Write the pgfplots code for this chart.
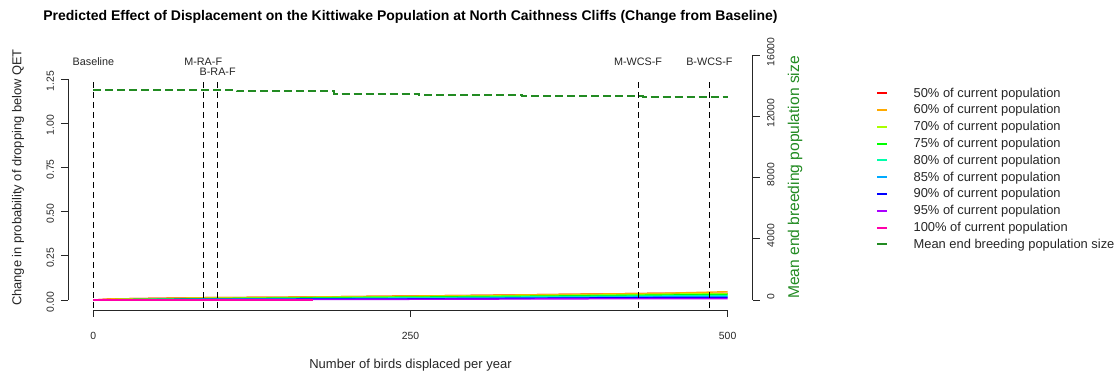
\documentclass[border=0pt]{standalone}
\usepackage{fontspec}
\setmainfont{Liberation Sans}
\usepackage{pgfplots}
\pgfplotsset{compat=1.18}

% R rainbow(9) palette
\definecolor{c50}{HTML}{FF0000}
\definecolor{c60}{HTML}{FFAA00}
\definecolor{c70}{HTML}{AAFF00}
\definecolor{c75}{HTML}{00FF00}
\definecolor{c80}{HTML}{00FFAA}
\definecolor{c85}{HTML}{00AAFF}
\definecolor{c90}{HTML}{0000FF}
\definecolor{c95}{HTML}{AA00FF}
\definecolor{c100}{HTML}{FF00AA}
\definecolor{popgreen}{HTML}{228B22}

\pgfplotsset{
  rbase/.style={
    scale only axis,
    width=342.5pt, height=132.5pt,
    at={(34pt,33pt)}, anchor=south west,
    xmin=-20, xmax=520,
    clip=false,
    axis line style={draw=none},
    tick align=outside,
    major tick length=3.5pt,
    tick style={black!85, line width=0.5pt},
    ticklabel style={font=\fontsize{5.2}{6}\selectfont, text=black!85},
    /pgf/number format/assume math mode=true,
  },
}

\begin{document}
\begin{tikzpicture}[x=1pt,y=1pt]
\path[use as bounding box] (0,0) rectangle (559.5,188);

\begin{axis}[
  rbase,
  ymin=-0.05656, ymax=1.4423,
  axis x line*=bottom, axis y line*=left,
  xtick={0,250,500},
  ytick={0,0.25,0.5,0.75,1,1.25},
  yticklabel style={rotate=90, anchor=south, xshift=-1pt,
    /pgf/number format/.cd, fixed, fixed zerofill, precision=2},
  xticklabel style={anchor=north, yshift=-4pt},
  xlabel={Number of birds displaced per year},
  xlabel style={at={(axis description cs:0.5,-0.2075)}, anchor=center,
    font=\fontsize{6.5}{7.5}\selectfont, text=black!85},
  ylabel={Change in probability of dropping below QET},
  ylabel style={at={(axis description cs:-0.073,0.5)}, anchor=center,
    font=\fontsize{6.45}{7.5}\selectfont, text=black!85},
  legend style={at={(axis description cs:1.1796,0.845)}, anchor=north west,
    draw=none, fill=none, inner sep=0pt,
    font=\fontsize{6.45}{7.5}\selectfont, text=black!85,
    row sep=1.1pt,
    nodes={inner sep=0.6pt, text height=4.7pt, text depth=1.4pt},
    /tikz/every odd column/.append style={column sep=12pt}},
  legend cell align=left,
  legend image code/.code={\draw[#1, line width=1pt, solid] (0pt,0.3pt) -- (5pt,0.3pt);},
  const plot,
  every axis plot/.append style={line width=0.7pt},
]
% change in probability of dropping below QET, by population scenario
\addplot[c50] coordinates {(0,0) (14,0.006) (87,0.013) (157,0.016) (228,0.021) (301,0.026) (374,0.032) (448,0.038) (500,0.038)};
\addplot[c60] coordinates {(0,0) (14,0.006) (87,0.013) (157,0.016) (228,0.021) (301,0.026) (374,0.032) (448,0.038) (500,0.047)};
\addplot[c70] coordinates {(0,0) (25,0.004) (87,0.010) (160,0.014) (250,0.019) (330,0.024) (420,0.030) (470,0.035) (500,0.035)};
\addplot[c75] coordinates {(0,0) (30,0.003) (95,0.008) (170,0.012) (240,0.016) (320,0.020) (400,0.025) (480,0.030) (500,0.030)};
\addplot[c80] coordinates {(0,0) (40,0.003) (110,0.006) (200,0.010) (280,0.014) (350,0.018) (430,0.022) (490,0.025) (500,0.025)};
\addplot[c85] coordinates {(0,0) (55,0.002) (130,0.005) (220,0.008) (300,0.011) (380,0.015) (460,0.019) (500,0.019)};
\addplot[c90] coordinates {(0,0) (54,0.003) (126,0.004) (250,0.006) (330,0.009) (400,0.012) (480,0.014) (500,0.014)};
\addplot[c95] coordinates {(0,0) (100,0.002) (200,0.003) (300,0.005) (400,0.007) (500,0.008)};
\addplot[c100] coordinates {(0,0) (173,0)};
\addlegendentry{50\% of current population}
\addlegendentry{60\% of current population}
\addlegendentry{70\% of current population}
\addlegendentry{75\% of current population}
\addlegendentry{80\% of current population}
\addlegendentry{85\% of current population}
\addlegendentry{90\% of current population}
\addlegendentry{95\% of current population}
\addlegendentry{100\% of current population}
\addlegendimage{popgreen, dash pattern=on 2.5pt off 2pt}
\addlegendentry{Mean end breeding population size}

% reference lines for the scenarios
\pgfplotsset{every axis plot/.append style={sharp plot}}
\addplot[black, line width=0.5pt, dash pattern=on 3pt off 2pt, forget plot] coordinates {(0,-0.045) (0,1.25)};
\addplot[black, line width=0.5pt, dash pattern=on 3pt off 2pt, forget plot] coordinates {(86.6,-0.045) (86.6,1.25)};
\addplot[black, line width=0.5pt, dash pattern=on 3pt off 2pt, forget plot] coordinates {(98,-0.045) (98,1.25)};
\addplot[black, line width=0.5pt, dash pattern=on 3pt off 2pt, forget plot] coordinates {(429.4,-0.045) (429.4,1.25)};
\addplot[black, line width=0.5pt, dash pattern=on 3pt off 2pt, forget plot] coordinates {(485.6,-0.045) (485.6,1.25)};
\begin{scope}[font=\fontsize{5.4}{6.5}\selectfont, text=black!85]
\node at (axis cs:0,1.346) {Baseline};
\node at (axis cs:86.6,1.346) {M-RA-F};
\node at (axis cs:98,1.29) {B-RA-F};
\node at (axis cs:429.4,1.346) {M-WCS-F};
\node at (axis cs:485.6,1.346) {B-WCS-F};
\end{scope}

% title
\node[font=\fontsize{7}{8}\selectfont\bfseries] at (axis description cs:0.5,1.1057)
  {Predicted Effect of Displacement on the Kittiwake Population at North Caithness Cliffs (Change from Baseline)};

% R-style axis lines
\draw[black!85, line width=0.5pt] (axis cs:0,-0.05656) -- (axis cs:500,-0.05656);
\draw[black!85, line width=0.5pt] (axis cs:-20,0) -- (axis cs:-20,1.25);
\end{axis}

\begin{axis}[
  rbase,
  ymin=-653.1, ymax=16653.1,
  axis x line=none, axis y line*=right,
  ytick={0,4000,8000,12000,16000},
  scaled y ticks=false,
  yticklabel style={rotate=90, anchor=north, xshift=1.5pt,
    /pgf/number format/1000 sep={}},
  ylabel={Mean end breeding population size},
  ylabel style={at={(axis description cs:1.0613,0.5)}, anchor=center,
    font=\fontsize{7.8}{9}\selectfont, text=popgreen},
]
\addplot[popgreen, line width=0.9pt, dash pattern=on 4pt off 2pt, sharp plot]
  coordinates {(0,13716) (113,13716) (113,13650) (190,13650) (190,13470) (257,13470)
               (257,13390) (338,13390) (338,13330) (433,13330) (433,13270) (500,13270)};
\draw[black!85, line width=0.5pt] (axis cs:520,0) -- (axis cs:520,16000);
\end{axis}
\end{tikzpicture}
\end{document}
